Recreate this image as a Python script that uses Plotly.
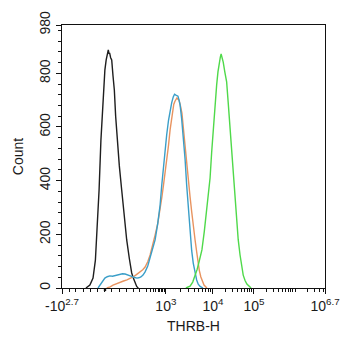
import plotly.graph_objects as go

# Display channel (0-1000) on a biexponential THRB-H scale, and event counts
black_ch = [91, 106, 118, 127, 133, 141, 148, 156, 163, 168, 171, 174, 176, 179, 181, 185, 189, 194,
            199, 204, 210, 218, 227, 236, 246, 256, 265, 272, 278, 284, 290]
black_cnt = [0, 11, 37, 104, 216, 365, 551, 700, 812, 850, 868, 880, 887, 872, 876, 858, 850, 790,
             738, 640, 551, 455, 365, 270, 179, 110, 56, 35, 19, 6, 0]

blue_ch = [137, 148, 156, 163, 172, 182, 192, 202, 212, 221, 230, 240, 248, 255, 262, 270, 278, 285,
           292, 300, 308, 316, 326, 335, 345, 354, 364, 373, 379, 385, 392, 398, 405, 411, 417, 423,
           428, 433, 437, 441, 445, 449, 455, 461, 468, 474, 481, 487, 493, 499, 506, 512, 518, 525, 536]
blue_cnt = [0, 15, 28, 37, 42, 45, 44, 47, 49, 50, 53, 52, 50, 48, 44, 41, 38, 37,
            38, 41, 48, 60, 82, 112, 142, 179, 240, 309, 380, 447, 510, 570, 625, 663, 690, 712,
            722, 719, 716, 715, 700, 682, 630, 570, 480, 384, 290, 197, 140, 93, 55, 30, 14, 6, 0]

orange_ch = [170, 183, 194, 208, 221, 234, 247, 258, 270, 283, 297, 307, 316, 326, 335, 345, 354, 364,
             373, 380, 386, 393, 399, 405, 411, 416, 420, 425, 430, 434, 437, 441, 445, 450, 456, 462,
             468, 474, 479, 483, 487, 493, 498, 502, 506, 512, 517, 522, 528, 534, 540, 551]
orange_cnt = [0, 4, 11, 17, 22, 26, 30, 35, 41, 50, 60, 68, 78, 98, 123, 158, 197, 240,
              291, 340, 384, 432, 477, 532, 589, 630, 663, 685, 697, 705, 708, 703, 700, 680, 652, 590,
              525, 460, 402, 370, 339, 285, 235, 205, 179, 135, 97, 66, 41, 22, 11, 0]

green_ch = [471, 487, 497, 506, 514, 521, 532, 541, 550, 557, 563, 569, 575, 582, 588, 593, 598, 602,
            605, 609, 613, 619, 626, 632, 639, 645, 651, 657, 664, 670, 677, 683, 689, 696, 703, 719]
green_cnt = [0, 7, 22, 45, 70, 97, 142, 210, 283, 350, 410, 505, 596, 680, 756, 805, 842, 860,
             872, 860, 842, 805, 768, 690, 596, 500, 410, 320, 246, 180, 123, 80, 48, 28, 15, 0]

# Axis ticks (positions in display channel)
x_tick_vals = [0, 395, 574, 730, 1000]
x_tick_text = ["-10<sup>2.7</sup>", "10<sup>3</sup>", "10<sup>4</sup>", "10<sup>5</sup>", "10<sup>6.7</sup>"]
x_minor_vals = [27, 53, 80, 107, 134, 163, 190, 217, 244, 270, 296, 320,
                335, 348, 357, 365, 372, 378, 384, 390,
                449, 480, 502, 520, 534, 546, 557, 566,
                621, 648, 667, 683, 695, 705, 714, 722,
                777, 804, 823, 839, 851, 861, 870, 878, 886, 933, 960, 979, 995]
y_tick_vals = [0, 200, 400, 600, 800, 980]

series = [
    (black_ch, black_cnt, "#1e1e1e"),
    (orange_ch, orange_cnt, "#e8935f"),
    (blue_ch, blue_cnt, "#3a9ec8"),
    (green_ch, green_cnt, "#4fd94a"),
]

fig = go.Figure()
for xs, ys, color in series:
    fig.add_trace(go.Scatter(x=xs, y=ys, mode="lines",
                             line=dict(color=color, width=1.4), hoverinfo="skip"))

font_family = "Arial, Liberation Sans, sans-serif"

fig.update_layout(
    width=342, height=350,
    margin=dict(l=62, r=17, t=25, b=62),
    paper_bgcolor="white", plot_bgcolor="white",
    showlegend=False,
    font=dict(family=font_family, size=14, color="#1a1a1a"),
    xaxis=dict(
        range=[0, 1000], showgrid=False, zeroline=False, automargin=False,
        showline=True, linecolor="#111", linewidth=1.2, mirror=True,
        tickmode="array", tickvals=x_tick_vals, ticktext=x_tick_text,
        ticks="outside", ticklen=5, tickwidth=1.2, tickcolor="#111",
        minor=dict(tickmode="array", tickvals=x_minor_vals, ticks="outside",
                   ticklen=3, tickwidth=1, tickcolor="#111"),
        tickfont=dict(size=14),
        title=dict(text="THRB-H", font=dict(size=14), standoff=8),
    ),
    yaxis=dict(
        range=[0, 980], showgrid=False, zeroline=False, automargin=False,
        showline=True, linecolor="#111", linewidth=1.2, mirror=True,
        tickmode="array", tickvals=y_tick_vals, tickangle=-90,
        ticks="outside", ticklen=5, tickwidth=1.2, tickcolor="#111",
        minor=dict(dtick=40, tick0=0, ticks="outside", ticklen=3,
                   tickwidth=1, tickcolor="#111"),
        tickfont=dict(size=14),
        title=dict(text="Count", font=dict(size=14), standoff=10),
    ),
)

# Zero marker on the biexponential axis
fig.add_shape(type="rect", xref="x", yref="paper", x0=159, x1=168, y0=-0.012, y1=0.0,
              fillcolor="#111", line=dict(width=0))

fig.write_html("out.html")
